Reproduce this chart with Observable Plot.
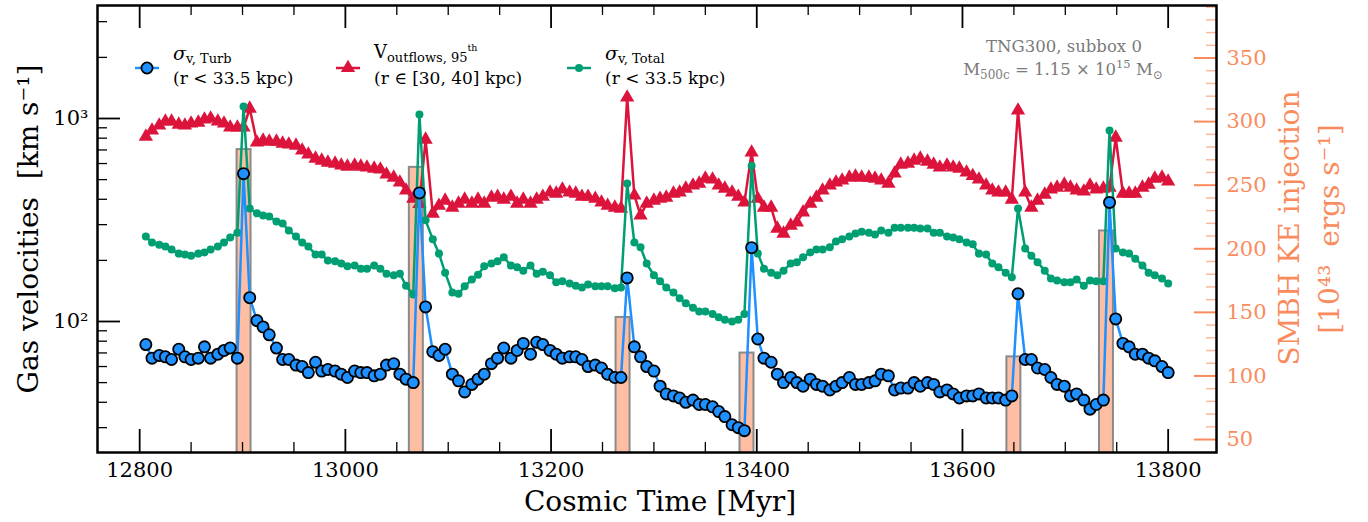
<!DOCTYPE html>
<html><head><meta charset="utf-8">
<script src="https://cdn.jsdelivr.net/npm/d3@7"></script>
<script src="https://cdn.jsdelivr.net/npm/@observablehq/plot@0.6"></script>
<style>
body{margin:0;background:#fff;}
#wrap{position:relative;width:1368px;height:522px;overflow:hidden;}
#wrap svg{position:absolute;left:0;top:0;}
</style></head><body><div id="wrap"></div>
<script>
// ---------------- data ----------------
const times = [
12806,12812,12819,12825,12831,12838,12844,12850,12857,12863,
12869,12876,12882,12888,12895,12901,12907,12914,12920,12926,
12933,12939,12945,12952,12958,12964,12971,12977,12983,12990,
12996,13002,13009,13015,13021,13028,13034,13040,13047,13053,
13059,13066,13072,13078,13085,13091,13097,13104,13110,13116,
13123,13129,13135,13142,13148,13154,13161,13167,13173,13180,
13186,13192,13199,13205,13211,13218,13224,13230,13236,13243,
13249,13255,13262,13268,13274,13281,13287,13293,13300,13306,
13312,13319,13325,13331,13338,13344,13350,13357,13363,13369,
13376,13382,13388,13395,13401,13407,13414,13420,13426,13433,
13439,13445,13452,13458,13464,13471,13477,13483,13490,13496,
13502,13509,13515,13521,13528,13534,13540,13547,13553,13559,
13566,13572,13578,13585,13591,13597,13604,13610,13616,13623,
13629,13635,13642,13648,13654,13661,13667,13673,13680,13686,
13692,13699,13705,13711,13718,13724,13730,13737,13743,13749,
13756,13762,13768,13775,13781,13787,13794,13800];

const sigmaTurb = [
77,66,68,67,65,73,67,65,66,75,
66,69,72,74,66,535,131,101,94,86,
74,65,65,61,60,56,63,57,58,57,
55,53,57,56,56,54,55,61,62,55,
52,50,430,118,71,68,73,55,51,45,
49,52,55,62,66,74,66,72,78,69,
79,77,72,69,66,67,67,65,60,61,
59,55,53,53,164,75,67,60,57,48,
44,43,42,40,41,39,39,38,36,34,
31,30,29,231,82,66,63,55,50,53,
50,48,52,49,48,46,48,50,53,49,
49,50,51,55,54,46,47,47,50,48,
50,49,45,46,44,42,43,43,44,42,
42,42,41,43,137,65,65,59,58,53,
49,48,43,44,41,37,39,41,386,103,
78,75,69,69,66,64,60,56];

const vOutflows = [
815,873,924,967,967,934,924,945,955,989,
1000,967,945,903,903,903,1120,762,779,770,
770,753,745,736,696,665,635,621,607,600,
587,580,587,580,574,567,561,530,512,484,
442,403,380,788,340,372,394,364,381,399,
381,399,381,408,412,399,412,381,399,381,
399,412,432,427,447,432,427,412,412,403,
386,372,364,360,1270,418,333,381,394,403,
408,427,432,452,468,478,506,501,468,452,
432,412,386,681,403,364,364,287,271,297,
308,345,381,408,442,468,484,495,512,518,
512,512,506,495,478,536,593,600,621,635,
614,593,574,587,574,567,542,521,501,468,
442,432,432,399,1095,432,364,394,422,447,
457,473,457,442,437,468,447,452,457,806,
427,427,427,457,473,506,512,490];

const sigmaTotal = [
262,245,239,234,226,216,214,211,216,219,
226,234,245,259,274,1146,360,341,333,329,
311,304,281,262,245,234,214,214,200,198,
193,187,189,182,182,189,182,172,169,172,
150,136,1047,315,254,216,174,139,137,149,
161,170,187,193,198,207,189,185,178,189,
172,176,169,156,158,154,150,147,152,149,
149,149,146,147,479,245,232,193,169,158,
147,139,130,123,117,112,112,109,105,102,
100,102,109,585,216,182,174,169,178,193,
196,207,219,226,226,232,248,254,262,271,
277,274,268,281,274,290,290,290,290,287,
287,274,274,262,259,254,245,240,216,214,
193,185,174,165,360,229,211,196,178,163,
159,156,156,161,150,159,158,158,873,229,
219,216,204,189,174,169,163,154];

const barTimes  = [12901.5, 13069, 13270, 13390.5, 13650, 13740];
const barValues = [278, 264, 146, 118, 115, 214];

const xTicks = [12800, 13000, 13200, 13400, 13600, 13800];
const xMinorTicks = [12850,12900,12950,13050,13100,13150,13250,13300,13350,13450,13500,13550,13650,13700,13750];
const yTicks = [100, 1000];
const yTickLabels = ["10\u00B2", "10\u00B3"];
const yMinorTicks = [30,40,50,60,70,80,90,200,300,400,500,600,700,800,900,2000,3000];
const rTicks = [50,100,150,200,250,300,350];
const rMinorTicks = [40,60,70,80,90,110,120,130,140,160,170,180,190,210,220,230,240,260,270,280,290,310,320,330,340,360,370,380,390];

// ---------------- layout ----------------
const W = 1368, H = 522, mL = 97, mR = 152, mT = 5, mB = 70;
const innerW = W - mL - mR, innerH = H - mT - mB;
const font = "DejaVu Serif";
const blue = "#1e90ff", red = "#dc143c", green = "#009e73", orange = "#f98b5d", orangeLight = "#fbbb9e";
const xDomain = [12759, 13847];

const rows = times.map((t, i) => ({t, turb: sigmaTurb[i], out: vOutflows[i], tot: sigmaTotal[i]}));
const bars = barTimes.map((t, i) => ({t, v: barValues[i]}));
const halfBar = 6.8;

// bottom layer: bars + right axis
const p1 = Plot.plot({
  width: W, height: H, marginLeft: mL, marginRight: mR, marginTop: mT, marginBottom: mB,
  style: {fontFamily: font, background: "transparent"},
  x: {domain: xDomain, axis: null},
  y: {domain: [39.8, 391.3], axis: null},
  marks: [
    Plot.rect(bars, {x1: d => d.t - halfBar, x2: d => d.t + halfBar, y1: 0, y2: "v",
      fill: "#fdbea4", stroke: "#8a8a8a", strokeWidth: 2, clip: true}),
    Plot.tickY(rMinorTicks, {y: d => d, stroke: orangeLight, strokeWidth: 1.5, insetLeft: innerW - 10}),
    Plot.tickY(rTicks, {y: d => d, stroke: orange, strokeWidth: 2, insetLeft: innerW - 22}),
    Plot.axisY(rTicks, {anchor: "right", tickSize: 0, tickPadding: 10, fontSize: 21, fill: orange,
      tickFormat: d => String(d), label: null})
  ]
});

// top layer: lines, axes, frame
const p2 = Plot.plot({
  width: W, height: H, marginLeft: mL, marginRight: mR, marginTop: mT, marginBottom: mB,
  style: {fontFamily: font, background: "transparent"},
  x: {domain: xDomain, axis: null},
  y: {type: "log", domain: [22.63, 3603], axis: null},
  marks: [
    Plot.line(rows, {x: "t", y: "out", stroke: red, strokeWidth: 2.5}),
    Plot.dot(rows, {x: "t", y: "out", symbol: "triangle", r: 5.3, fill: red, stroke: "none"}),
    Plot.line(rows, {x: "t", y: "tot", stroke: green, strokeWidth: 2.5}),
    Plot.dot(rows, {x: "t", y: "tot", r: 4, fill: green, stroke: "none"}),
    Plot.line(rows, {x: "t", y: "turb", stroke: blue, strokeWidth: 2.5}),
    Plot.dot(rows, {x: "t", y: "turb", r: 5.6, fill: blue, stroke: "black", strokeWidth: 1.8}),
    // inward ticks
    Plot.tickX(xMinorTicks, {x: d => d, stroke: "black", strokeWidth: 1.3, insetTop: innerH - 10}),
    Plot.tickX(xMinorTicks, {x: d => d, stroke: "black", strokeWidth: 1.3, insetBottom: innerH - 10}),
    Plot.tickX(xTicks, {x: d => d, stroke: "black", strokeWidth: 1.8, insetTop: innerH - 23}),
    Plot.tickX(xTicks, {x: d => d, stroke: "black", strokeWidth: 1.8, insetBottom: innerH - 23}),
    Plot.tickY(yMinorTicks, {y: d => d, stroke: "black", strokeWidth: 1.3, insetRight: innerW - 10}),
    Plot.tickY(yTicks, {y: d => d, stroke: "black", strokeWidth: 1.8, insetRight: innerW - 23}),
    Plot.axisX(xTicks, {anchor: "bottom", tickSize: 0, tickPadding: 10, fontSize: 21,
      tickFormat: d => String(d), label: null}),
    Plot.axisY(yTicks, {anchor: "left", tickSize: 0, tickPadding: 9, fontSize: 21,
      tickFormat: d => yTickLabels[yTicks.indexOf(d)], label: null}),
    Plot.frame({stroke: "black", strokeWidth: 2.5})
  ]
});

const wrap = document.getElementById("wrap");
wrap.appendChild(p1);
wrap.appendChild(p2);

// ---------------- texts & legend ----------------
const s = d3.select(p2).append("g").attr("font-family", font).attr("text-anchor", "start");

// axis titles
s.append("text").attr("x", 660).attr("y", 511).attr("text-anchor", "middle")
  .attr("font-size", 28).attr("fill", "black").text("Cosmic Time [Myr]");
s.append("text").attr("transform", "translate(38,229) rotate(-90)").attr("text-anchor", "middle")
  .attr("font-size", 28).attr("fill", "black").text("Gas velocities  [km s\u207B\u00B9]");
s.append("text").attr("transform", "translate(1299,228) rotate(-90)").attr("text-anchor", "middle")
  .attr("font-size", 28).attr("fill", orange).text("SMBH KE injection");
s.append("text").attr("transform", "translate(1339,229) rotate(-90)").attr("text-anchor", "middle")
  .attr("font-size", 28).attr("fill", orange).text("[10\u2074\u00B3  ergs s\u207B\u00B9]");

// annotation
const ann = s.append("g").attr("fill", "#7a7a7a").attr("text-anchor", "middle");
ann.append("text").attr("x", 1064).attr("y", 52).attr("font-size", 16.5).text("TNG300, subbox 0");
const a2 = ann.append("text").attr("x", 1063).attr("y", 75).attr("font-size", 16.5);
a2.append("tspan").text("M");
a2.append("tspan").attr("font-size", 12).attr("dy", 4).text("500c");
a2.append("tspan").attr("dy", -4).text(" = 1.15 \u00D7 10");
a2.append("tspan").attr("font-size", 11.5).attr("dy", -7).text("15");
a2.append("tspan").attr("dy", 7).text(" M");
a2.append("tspan").attr("font-size", 12).attr("dy", 4).text("\u2299");

// legend
const lg = s.append("g").attr("text-anchor", "start").attr("fill", "black");
function legendLine(x0, color) {
  lg.append("line").attr("x1", x0 - 12).attr("x2", x0 + 12).attr("y1", 68).attr("y2", 68)
    .attr("stroke", color).attr("stroke-width", 2.5);
}
// blue
legendLine(147, blue);
lg.append("circle").attr("cx", 147).attr("cy", 68).attr("r", 5.6).attr("fill", blue)
  .attr("stroke", "black").attr("stroke-width", 1.8);
let t1 = lg.append("text").attr("x", 173).attr("y", 60).attr("font-size", 19);
t1.append("tspan").attr("font-style", "italic").text("\u03C3");
t1.append("tspan").attr("font-size", 13).attr("dy", 3).text("v, Turb");
lg.append("text").attr("x", 173).attr("y", 84).attr("font-size", 17).text("(r < 33.5 kpc)");
// red
legendLine(348, red);
lg.append("path").attr("transform", "translate(348,68)")
  .attr("d", d3.symbol(d3.symbolTriangle, Math.PI * 5.3 * 5.3)()).attr("fill", red);
let t2 = lg.append("text").attr("x", 374).attr("y", 58).attr("font-size", 18);
t2.append("tspan").text("V");
t2.append("tspan").attr("font-size", 13).attr("dy", 4).text("outflows, 95");
t2.append("tspan").attr("font-size", 9.5).attr("dy", -11).text("th");
lg.append("text").attr("x", 374).attr("y", 84).attr("font-size", 17).text("(r \u2208 [30, 40] kpc)");
// green
legendLine(579, green);
lg.append("circle").attr("cx", 579).attr("cy", 68).attr("r", 4).attr("fill", green);
let t3 = lg.append("text").attr("x", 605).attr("y", 60).attr("font-size", 19);
t3.append("tspan").attr("font-style", "italic").text("\u03C3");
t3.append("tspan").attr("font-size", 13).attr("dy", 3).text("v, Total");
lg.append("text").attr("x", 605).attr("y", 84).attr("font-size", 17).text("(r < 33.5 kpc)");
</script></body></html>
